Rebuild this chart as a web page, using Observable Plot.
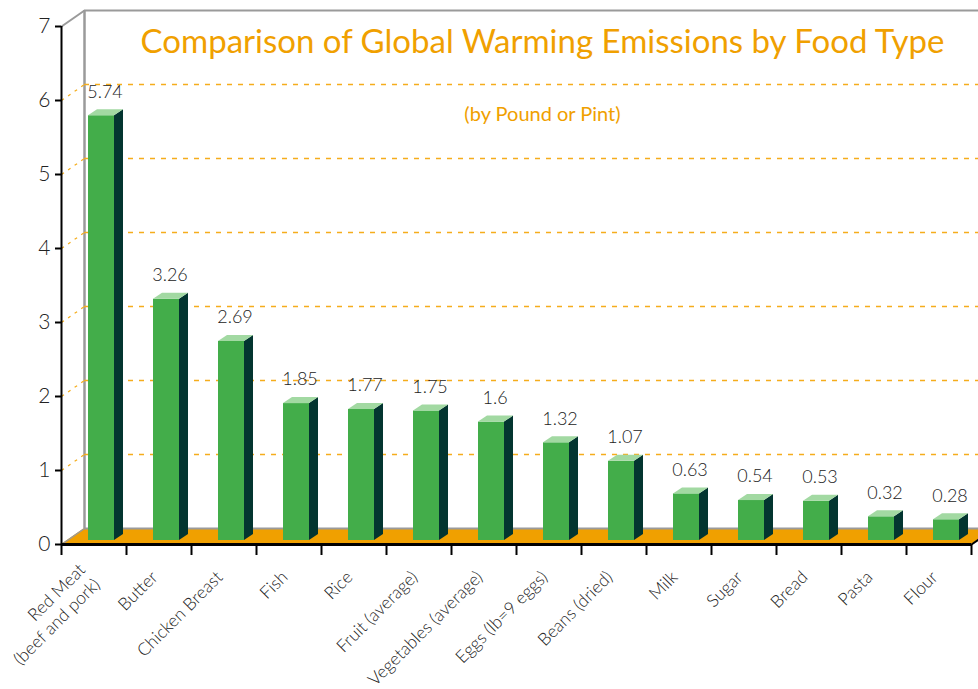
<!DOCTYPE html>
<html>
<head>
<meta charset="utf-8">
<script src="https://cdn.jsdelivr.net/npm/d3@7"></script>
<script src="https://cdn.jsdelivr.net/npm/@observablehq/plot@0.6"></script>
<style>
  html, body { margin: 0; padding: 0; background: #fff; }
  #chart svg { display: block; }
</style>
</head>
<body>
<div id="chart"></div>
<script>
// ---- data ----
const categories = ["Red Meat\n(beef and pork)", "Butter", "Chicken Breast", "Fish", "Rice",
  "Fruit (average)", "Vegetables (average)", "Eggs (lb=9 eggs)", "Beans (dried)",
  "Milk", "Sugar", "Bread", "Pasta", "Flour"];
const values = [5.74, 3.26, 2.69, 1.85, 1.77, 1.75, 1.6, 1.32, 1.07, 0.63, 0.54, 0.53, 0.32, 0.28];
const valueLabels = ["5.74", "3.26", "2.69", "1.85", "1.77", "1.75", "1.6", "1.32", "1.07", "0.63", "0.54", "0.53", "0.32", "0.28"];
const yTicks = [0, 1, 2, 3, 4, 5, 6, 7];
const gridLevels = [1, 2, 3, 4, 5, 6];
const chartTitle = "Comparison of Global Warming Emissions by Food Type";
const chartSubtitle = "(by Pound or Pint)";

// ---- layout (3D pseudo-depth expressed in scale units) ----
const W = 978, H = 689;
const mL = 61, mR = 7, mT = 26, mB = 145;
const n = categories.length;
const pxX = (W - mL - mR) / n;     // px per x unit
const pxY = (H - mT - mB) / 7;     // px per y unit
const DX = 23 / pxX, DY = 16 / pxY;            // wall depth
const BDX = 9 / pxX, BDY = 6 / pxY;            // bar depth
const BO = 4 / pxY;                            // bar base offset into the floor
const B0 = 27 / pxX, BW = 26 / pxX;            // bar start / width within band

const bars = values.map((v, i) => ({i, v, label: valueLabels[i], cat: categories[i],
  a0: i + B0, a1: i + B0 + BW}));
const sideFaces = bars.flatMap(b => [
  {id: b.i, x: b.a1, y1: BO, y2: b.v + BO},
  {id: b.i, x: b.a1 + BDX, y1: BO + BDY, y2: b.v + BO + BDY}
]);
const topFaces = bars.flatMap(b => [
  {id: b.i, y: b.v + BO, x1: b.a0, x2: b.a1},
  {id: b.i, y: b.v + BO + BDY, x1: b.a0 + BDX, x2: b.a1 + BDX}
]);
const floorPoly = [{y: 0, x1: 0, x2: n}, {y: DY, x1: DX, x2: n + DX}];

const orange = "#f0a000";
const gridOrange = "#f5ad1c";
const gray = "#9a9a9a";
const font = "Lato, 'Open Sans', sans-serif";
const thin = 300;

const chart = Plot.plot({
  width: W, height: H,
  marginLeft: mL, marginRight: mR, marginTop: mT, marginBottom: mB,
  style: {fontFamily: font, fontSize: "18px", color: "#1a1a1a", background: "#fff"},
  x: {domain: [0, n], axis: null},
  y: {domain: [0, 7], axis: null},
  marks: [
    // floor
    Plot.areaX(floorPoly, {y: "y", x1: "x1", x2: "x2", fill: orange}),
    // back wall
    Plot.ruleY([DY], {x1: DX, x2: n + DX, stroke: gray, strokeWidth: 2}),
    Plot.ruleY([7 + DY], {x1: DX, x2: n + DX, stroke: gray, strokeWidth: 2}),
    Plot.ruleX([DX], {y1: DY, y2: 7 + DY, stroke: gray, strokeWidth: 2.5}),
    Plot.link([0], {x1: 0, y1: 7, x2: DX, y2: 7 + DY, stroke: gray, strokeWidth: 2}),
    Plot.link([0], {x1: 0, y1: 0, x2: DX, y2: DY, stroke: gray, strokeWidth: 1.5}),
    // grid
    Plot.ruleY(gridLevels, {y: d => d + DY, x1: DX, x2: n + DX, stroke: gridOrange, strokeWidth: 1.3, strokeDasharray: "5,6"}),
    Plot.link(gridLevels, {x1: 0, y1: d => d, x2: DX, y2: d => d + DY, stroke: gridOrange, strokeWidth: 1.2, strokeDasharray: "3,5"}),
    // bars
    Plot.rectY(bars, {x1: "a0", x2: "a1", y1: BO, y2: d => d.v + BO, fill: "#43ad4a"}),
    Plot.areaY(sideFaces, {x: "x", y1: "y1", y2: "y2", z: "id", fill: "#033530"}),
    Plot.areaX(topFaces, {y: "y", x1: "x1", x2: "x2", z: "id", fill: "#a2d9a2"}),
    // value labels
    Plot.text(bars, {x: d => d.i + 0.67, y: "v", dy: -28, text: "label", fontSize: 18, fontWeight: thin, fill: "#222"}),
    // front axes
    Plot.ruleX([0], {y1: 0, y2: 7, stroke: "#000", strokeWidth: 2}),
    Plot.ruleY([0], {x1: 0, x2: n, stroke: "#000", strokeWidth: 3}),
    Plot.link([0], {x1: n, y1: 0, x2: n + DX, y2: DY, stroke: "#000", strokeWidth: 2}),
    Plot.ruleX(d3.range(n + 1), {y1: 0, y2: -11 / pxY, stroke: "#000", strokeWidth: 2}),
    Plot.ruleY(yTicks, {x1: -6 / pxX, x2: 0, stroke: "#000", strokeWidth: 2}),
    Plot.text(yTicks, {x: 0, y: d => d, dx: -11, text: d => String(d), textAnchor: "end", fontSize: 21, fontWeight: thin, fill: "#222"}),
    // category labels
    Plot.text(bars, {x: d => d.i + 0.5, y: 0, dx: -5, dy: 29, text: "cat", rotate: -45,
      textAnchor: "end", lineAnchor: "middle", lineHeight: 1.2, fontSize: 17.5, fontWeight: thin, fill: "#222"}),
    // title & subtitle
    Plot.text([chartTitle], {frameAnchor: "top", dx: 26, dy: 16, lineAnchor: "middle", fontSize: 33, fontWeight: 400, fill: orange}),
    Plot.text([chartSubtitle], {frameAnchor: "top", dx: 26, dy: 88, lineAnchor: "middle", fontSize: 20, fontWeight: 400, fill: orange})
  ]
});
document.getElementById("chart").append(chart);
</script>
</body>
</html>
